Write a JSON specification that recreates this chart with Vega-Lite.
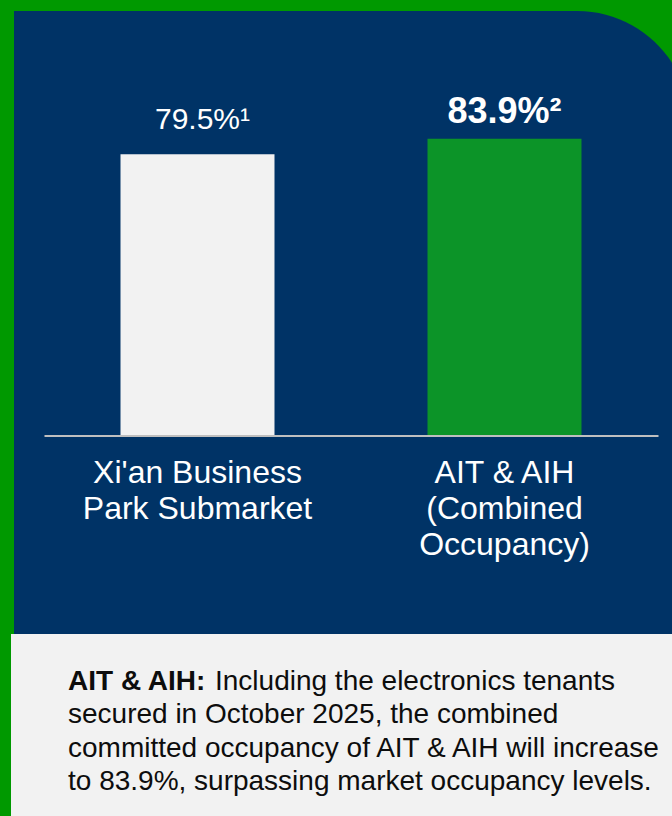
{
  "$schema": "https://vega.github.io/schema/vega-lite/v6.json",
  "background": "#009900",
  "padding": {"left": 11, "top": 11, "right": 0, "bottom": 0},
  "spacing": 0,
  "config": {
    "font": "Liberation Sans",
    "view": {"stroke": null}
  },
  "vconcat": [
    {
      "width": 676,
      "height": 623,
      "view": {"fill": null, "stroke": null},
      "data": {
        "values": [
          {"category": "Xi'an Business Park Submarket", "occupancy": 79.5, "label": "79.5%¹", "group": "market"},
          {"category": "AIT & AIH (Combined Occupancy)", "occupancy": 83.9, "label": "83.9%²", "group": "aitaih"}
        ]
      },
      "encoding": {
        "x": {
          "field": "category",
          "type": "nominal",
          "sort": null,
          "scale": {"range": [30, 644], "paddingInner": 0.4984, "paddingOuter": 0.2492},
          "axis": {
            "title": null,
            "orient": "bottom",
            "offset": -198.5,
            "zindex": 1,
            "domainColor": "#bfbfbf",
            "domainWidth": 2,
            "ticks": false,
            "tickSize": 0,
            "labelAngle": 0,
            "labelFontSize": 32,
            "labelColor": "#ffffff",
            "labelLineHeight": 36,
            "labelPadding": 22,
            "labelLimit": 0,
            "labelExpr": "datum.value == \"Xi'an Business Park Submarket\" ? [\"Xi'an Business\", \"Park Submarket\"] : [\"AIT & AIH\", \"(Combined\", \"Occupancy)\"]"
          }
        },
        "y": {
          "field": "occupancy",
          "type": "quantitative",
          "scale": {"domain": [0, 120], "range": [424.5, 0], "nice": false, "zero": true},
          "axis": null
        }
      },
      "layer": [
        {
          "data": {"values": [{"panel": "chart"}]},
          "mark": {"type": "rect", "fill": "#003366", "cornerRadiusTopRight": 113},
          "encoding": {
            "x": {"value": 0},
            "x2": {"value": "width"},
            "y": {"value": 0},
            "y2": {"value": "height"}
          }
        },
        {
          "mark": {"type": "bar"},
          "encoding": {
            "color": {
              "field": "group",
              "type": "nominal",
              "scale": {"domain": ["market", "aitaih"], "range": ["#f2f2f2", "#0c9428"]},
              "legend": null
            }
          }
        },
        {
          "transform": [{"filter": "datum.group == 'market'"}],
          "mark": {"type": "text", "baseline": "alphabetic", "align": "center", "fontSize": 30, "color": "#ffffff", "dy": -25, "dx": 5},
          "encoding": {"text": {"field": "label"}}
        },
        {
          "transform": [{"filter": "datum.group == 'aitaih'"}],
          "mark": {"type": "text", "baseline": "alphabetic", "align": "center", "fontSize": 36, "fontWeight": "bold", "color": "#ffffff", "dy": -16},
          "encoding": {"text": {"field": "label"}}
        }
      ]
    },
    {
      "width": 676,
      "height": 176,
      "view": {"fill": "#f2f2f2", "stroke": "#f2f2f2", "strokeWidth": 6},
      "data": {
        "values": [
          {"line": 1, "col": "start", "weight": "lead", "text": "AIT & AIH:"},
          {"line": 1, "col": "after", "weight": "body", "text": "Including the electronics tenants"},
          {"line": 2, "col": "start", "weight": "body", "text": "secured in October 2025, the combined"},
          {"line": 3, "col": "start", "weight": "body", "text": "committed occupancy of AIT & AIH will increase"},
          {"line": 4, "col": "start", "weight": "body", "text": "to 83.9%, surpassing market occupancy levels."}
        ]
      },
      "encoding": {
        "x": {"field": "col", "type": "nominal", "scale": {"type": "point", "domain": ["start", "after"], "range": [54, 201], "padding": 0}, "axis": null},
        "y": {"field": "line", "type": "ordinal", "scale": {"type": "point", "domain": [1, 2, 3, 4], "range": [53, 153], "padding": 0}, "axis": null},
        "text": {"field": "text"}
      },
      "layer": [
        {
          "transform": [{"filter": "datum.weight == 'lead'"}],
          "mark": {"type": "text", "align": "left", "baseline": "alphabetic", "fontSize": 28, "fontWeight": "bold", "color": "#0d0d0d"}
        },
        {
          "transform": [{"filter": "datum.weight == 'body'"}],
          "mark": {"type": "text", "align": "left", "baseline": "alphabetic", "fontSize": 28, "color": "#0d0d0d"}
        }
      ]
    }
  ]
}
